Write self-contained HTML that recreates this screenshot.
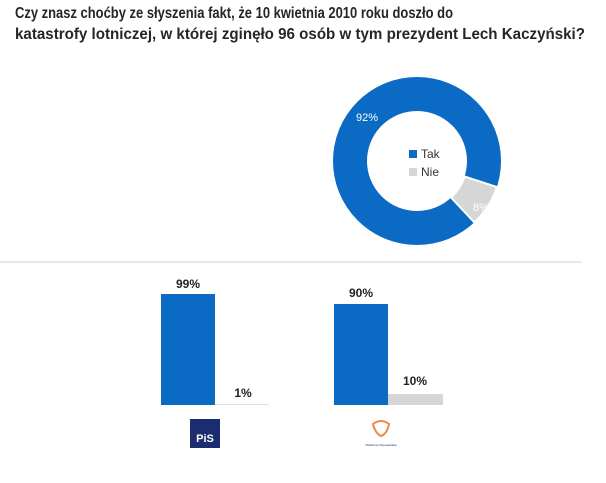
<!DOCTYPE html>
<html><head><meta charset="utf-8"><style>
html,body{margin:0;padding:0;background:#fff;}
svg{display:block;font-family:"Liberation Sans",sans-serif;}
</style></head><body>
<svg width="606" height="483" viewBox="0 0 606 483">
<text x="15" y="18" font-size="16" font-weight="bold" fill="#262626" textLength="438" lengthAdjust="spacingAndGlyphs">Czy znasz choćby ze słyszenia fakt, że 10 kwietnia 2010 roku doszło do</text>
<text x="15" y="39" font-size="16" font-weight="bold" fill="#262626" textLength="570" lengthAdjust="spacingAndGlyphs">katastrofy lotniczej, w której zginęło 96 osób w tym prezydent Lech Kaczyński?</text>
<circle cx="417" cy="161" r="67" fill="none" stroke="#0a6ac4" stroke-width="34"/>
<path d="M496.9,187 A84,84 0 0 1 474.3,222.4 L451.1,197.6 A50,50 0 0 0 464.6,176.5 Z" fill="#d6d6d6" stroke="#fff" stroke-width="2"/>
<text x="367" y="121" font-size="11" fill="#fff" text-anchor="middle">92%</text>
<text x="481" y="211" font-size="11" fill="#fff" text-anchor="middle">8%</text>
<rect x="409" y="150" width="8" height="8" fill="#0a6ac4"/>
<text x="421" y="158" font-size="12" fill="#333">Tak</text>
<rect x="409" y="168" width="8" height="8" fill="#d6d6d6"/>
<text x="421" y="176" font-size="12" fill="#333">Nie</text>
<line x1="0" y1="262" x2="582" y2="262" stroke="#d0d0d0" stroke-width="1"/>
<rect x="161" y="294" width="54" height="111" fill="#0a6ac4"/>
<rect x="215" y="404" width="54" height="1" fill="#e0e0e0"/>
<rect x="334" y="304" width="54" height="101" fill="#0a6ac4"/>
<rect x="388" y="394" width="55" height="11" fill="#d6d6d6"/>
<text x="188" y="288" font-size="12" font-weight="bold" fill="#222" text-anchor="middle">99%</text>
<text x="243" y="397" font-size="12" font-weight="bold" fill="#222" text-anchor="middle">1%</text>
<text x="361" y="297" font-size="12" font-weight="bold" fill="#222" text-anchor="middle">90%</text>
<text x="415" y="385" font-size="12" font-weight="bold" fill="#222" text-anchor="middle">10%</text>
<rect x="190" y="419" width="30" height="29" fill="#1b2d6e"/>
<text x="205" y="442" font-size="11" font-weight="bold" fill="#fff" text-anchor="middle">PiS</text>
<path d="M373,424 q8,-6 16,0 q-2,10 -8,12 q-6,-3 -8,-12z" fill="none" stroke="#f08a4b" stroke-width="2"/>
<text x="381" y="446" font-size="3" fill="#1b2d6e" text-anchor="middle">Platforma Obywatelska</text>
</svg>
</body></html>
